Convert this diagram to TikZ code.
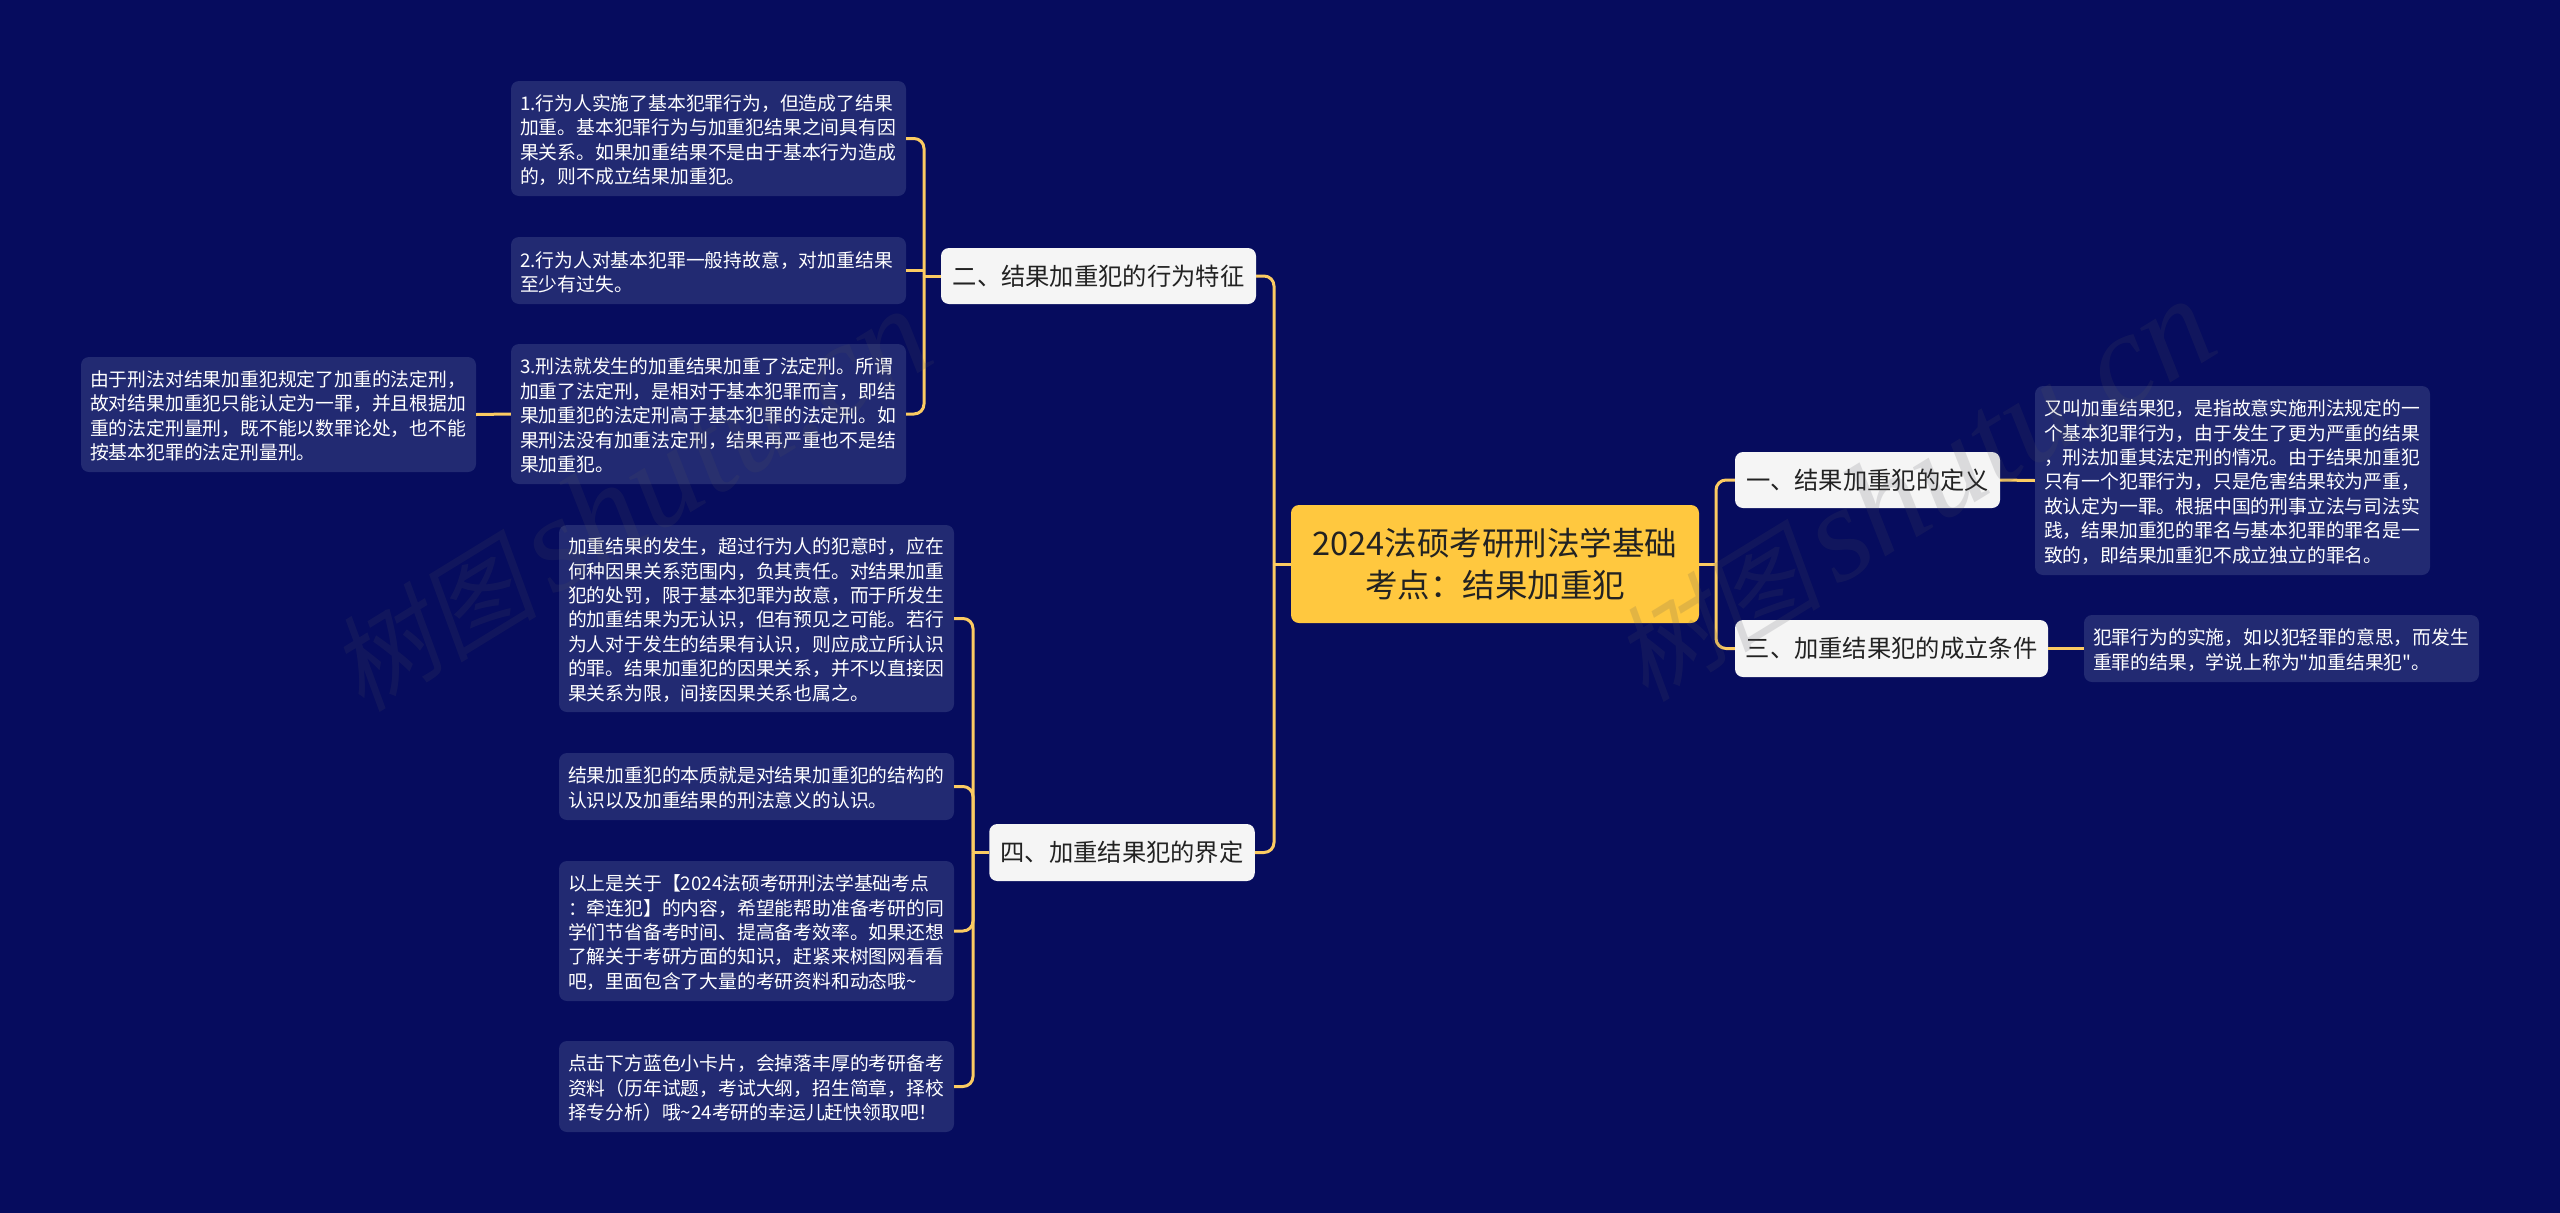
\documentclass[tikz,border=0pt]{standalone}
\usepackage{fontspec}
\setmainfont{Noto Sans CJK SC}
\newfontfamily\plainquote{Noto Sans CJK SC}
\newfontfamily\markcjk[FakeSlant=0.2]{Noto Sans CJK SC}
\newfontfamily\marklatin{Liberation Serif}
\definecolor{pagebg}{HTML}{060C5E}
\definecolor{leafbg}{HTML}{222A72}
\definecolor{rootbg}{HTML}{FFC83F}
\definecolor{topicbg}{HTML}{F5F5F5}
\definecolor{linkcol}{HTML}{FBCB62}
\definecolor{inkcol}{HTML}{222222}
\definecolor{markcol}{HTML}{50505A}
\tikzset{
  leaf/.style={fill=leafbg,text=white,rounded corners=8pt,minimum width=395pt,inner xsep=9pt,inner ysep=0pt,
    text width=377pt,align=left,font=\fontsize{18.8}{24.4}\selectfont,
    execute at end node={\par\vspace{-3pt}}},
  topic/.style={fill=topicbg,text=inkcol,rounded corners=8pt,inner sep=0pt,align=center,
    font=\fontsize{24.3}{30}\selectfont},
  rootbox/.style={fill=rootbg,text=inkcol,rounded corners=8pt,inner sep=0pt,align=center,
    font=\fontsize{32.5}{41.7}\selectfont},
  link/.style={draw=linkcol,line width=3pt,rounded corners=10pt},
  wmark/.style={text=markcol,text opacity=0.16,inner sep=0pt,anchor=base west,rotate=31.5}
}
\newcommand{\markword}{{\fontsize{105}{105}\selectfont\markcjk 树图}\hspace{14pt}{\fontsize{135}{135}\selectfont\marklatin\itshape shutu.cn}}
\begin{document}
\begin{tikzpicture}[x=1pt,y=-1pt]
    \useasboundingbox (0,0) rectangle (2560,1213);
    \fill[pagebg] (0,0) rectangle (2560,1213);
    % Root
    \node[rootbox,minimum width=408pt,minimum height=118pt] (root) at (1495,564) {2024法硕考研刑法学基础\\考点：结果加重犯};
    % Topics
    \node[topic,minimum width=265pt,minimum height=56pt] (topicOne) at (1867.5,480) {一、结果加重犯的定义};
    \node[topic,minimum width=315pt,minimum height=56pt] (topicTwo) at (1098.5,276) {二、结果加重犯的行为特征};
    \node[topic,minimum width=313pt,minimum height=57pt] (topicThree) at (1891.5,648.5) {三、加重结果犯的成立条件};
    \node[topic,minimum width=265.5pt,minimum height=57pt] (topicFour) at (1122,852.5) {四、加重结果犯的界定};
    % Leaves of topic two
    \node[leaf,minimum height=115pt] (twoA) at (708.5,138.5) {1.行为人实施了基本犯罪行为，但造成了结果\\加重。基本犯罪行为与加重犯结果之间具有因\\果关系。如果加重结果不是由于基本行为造成\\的，则不成立结果加重犯。};
    \node[leaf,minimum height=67pt] (twoB) at (708.5,270.5) {2.行为人对基本犯罪一般持故意，对加重结果\\至少有过失。};
    \node[leaf,minimum height=140pt] (twoC) at (708.5,414) {3.刑法就发生的加重结果加重了法定刑。所谓\\加重了法定刑，是相对于基本犯罪而言，即结\\果加重犯的法定刑高于基本犯罪的法定刑。如\\果刑法没有加重法定刑，结果再严重也不是结\\果加重犯。};
    \node[leaf,minimum height=115pt] (twoNote) at (278.5,414.5) {由于刑法对结果加重犯规定了加重的法定刑，\\故对结果加重犯只能认定为一罪，并且根据加\\重的法定刑量刑，既不能以数罪论处，也不能\\按基本犯罪的法定刑量刑。};
    % Leaves of topic four
    \node[leaf,minimum height=187pt] (fourA) at (756.5,618.5) {加重结果的发生，超过行为人的犯意时，应在\\何种因果关系范围内，负其责任。对结果加重\\犯的处罚，限于基本犯罪为故意，而于所发生\\的加重结果为无认识，但有预见之可能。若行\\为人对于发生的结果有认识，则应成立所认识\\的罪。结果加重犯的因果关系，并不以直接因\\果关系为限，间接因果关系也属之。};
    \node[leaf,minimum height=67pt] (fourB) at (756.5,786.5) {结果加重犯的本质就是对结果加重犯的结构的\\认识以及加重结果的刑法意义的认识。};
    \node[leaf,minimum height=140pt] (fourC) at (756.5,931) {以上是关于【2024法硕考研刑法学基础考点\\：牵连犯】的内容，希望能帮助准备考研的同\\学们节省备考时间、提高备考效率。如果还想\\了解关于考研方面的知识，赶紧来树图网看看\\吧，里面包含了大量的考研资料和动态哦\textasciitilde};
    \node[leaf,minimum height=91pt] (fourD) at (756.5,1086.5) {点击下方蓝色小卡片，会掉落丰厚的考研备考\\资料（历年试题，考试大纲，招生简章，择校\\择专分析）哦\textasciitilde 24考研的幸运儿赶快领取吧！};
    % Leaves on the right
    \node[leaf,minimum height=189pt] (oneA) at (2232.5,480.5) {又叫加重结果犯，是指故意实施刑法规定的一\\个基本犯罪行为，由于发生了更为严重的结果\\，刑法加重其法定刑的情况。由于结果加重犯\\只有一个犯罪行为，只是危害结果较为严重，\\故认定为一罪。根据中国的刑事立法与司法实\\践，结果加重犯的罪名与基本犯罪的罪名是一\\致的，即结果加重犯不成立独立的罪名。};
    \node[leaf,minimum height=67pt] (threeA) at (2281.5,648.5) {犯罪行为的实施，如以犯轻罪的意思，而发生\\重罪的结果，学说上称为{\plainquote"}加重结果犯{\plainquote"}。};
    % Spines
    \coordinate (spineLeft) at (1274,564);
    \coordinate (spineRight) at (1716,564);
    \coordinate (spineTwo) at (924,276);
    \coordinate (spineFour) at (973,852.5);
    % Links
    \draw[link] (root.west) -- (spineLeft);
    \draw[link] (root.east) -- (spineRight);
    \draw[link] (spineLeft) |- (topicTwo.east);
    \draw[link] (spineLeft) |- (topicFour.east);
    \draw[link] (spineRight) |- (topicOne.west);
    \draw[link] (spineRight) |- (topicThree.west);
    \draw[link] (topicTwo.west) -- (spineTwo);
    \draw[link] (spineTwo) |- (twoA.east);
    \draw[link] (twoB.east) -- (twoB.east -| spineTwo);
    \draw[link] (spineTwo) |- (twoC.east);
    \draw[link] (twoC.west) -- (twoNote.east);
    \draw[link] (topicFour.west) -- (spineFour);
    \draw[link] (spineFour) |- (fourA.east);
    \draw[link] (spineFour) |- (fourB.east);
    \draw[link] (spineFour) |- (fourC.east);
    \draw[link] (spineFour) |- (fourD.east);
    \draw[link] (topicOne.east) -- (oneA.west);
    \draw[link] (topicThree.east) -- (threeA.west);
    % Watermarks
    \node[wmark] (markLeft) at (362,714) {\markword};
    \node[wmark] (markRight) at (1646,704) {\markword};
\end{tikzpicture}
\end{document}
